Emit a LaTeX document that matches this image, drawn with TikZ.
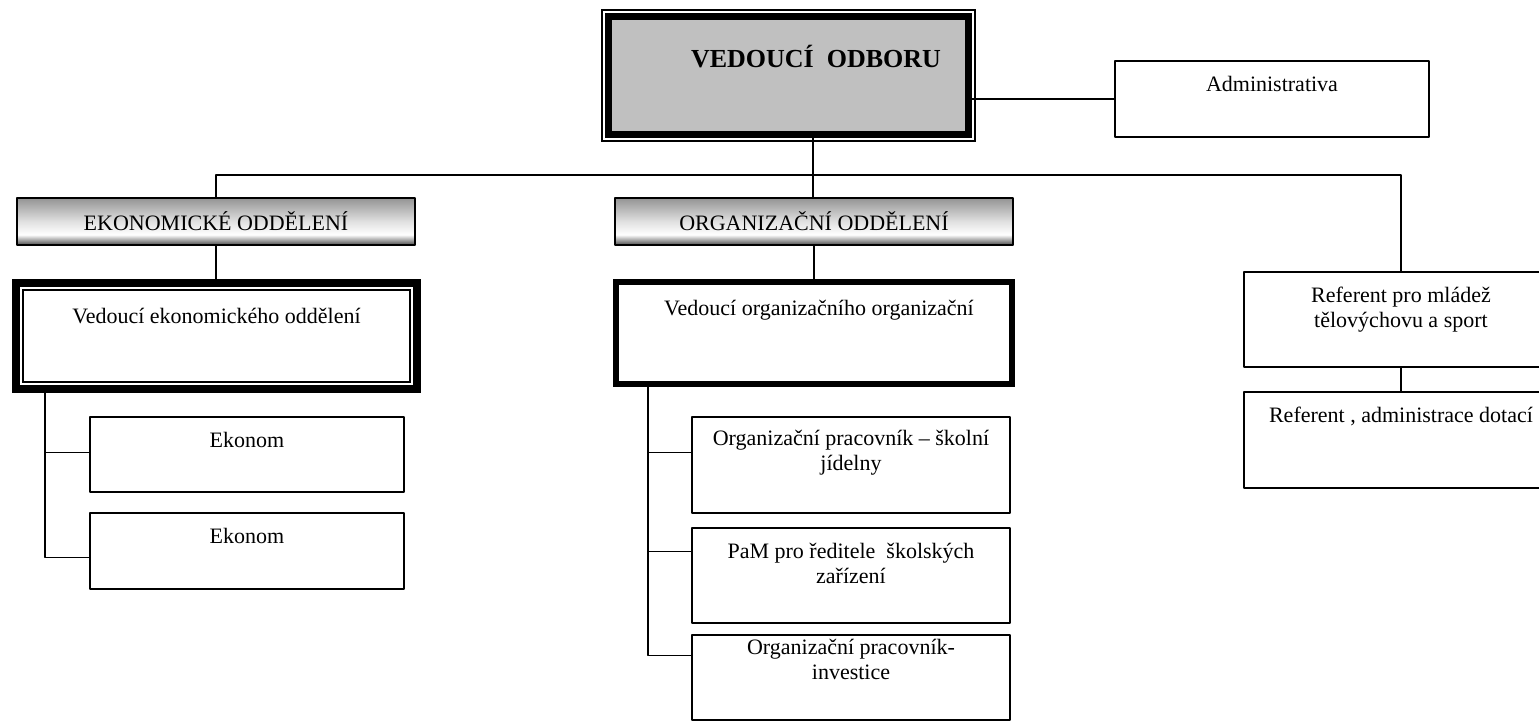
\documentclass[tikz,border=0pt]{standalone}
\usepackage{fontspec}
\setmainfont{Liberation Serif}
\usetikzlibrary{positioning}
\definecolor{headgray}{RGB}{192,192,192}
\pgfdeclareverticalshading{deptshade}{100bp}{color(0bp)=(black!70); color(25bp)=(black!70); color(36bp)=(white); color(50bp)=(black!12); color(75bp)=(black!42); color(100bp)=(black!42)}
\begin{document}
\begin{tikzpicture}[line cap=round,line join=round,x=0.5pt,y=-0.5pt,
  conn/.style={line width=0.7pt},
  box/.style={draw,line width=0.7pt,inner sep=0pt},
  dept/.style={box,shading=deptshade,minimum width=199pt,minimum height=23.5pt},
  lead/.style={draw,inner sep=0pt,line join=miter},
  txt/.style={anchor=base,align=center,inner sep=0pt,font=\fontsize{11}{12.5}\selectfont}]
      \path[use as bounding box,clip] (0,0) rectangle (1539,723);
      % head of the department
      \node[lead,line width=3.5pt,fill=headgray,minimum width=180pt,minimum height=59pt,
        label={[txt,font=\bfseries\fontsize{13}{15}\selectfont,xshift=13.75pt,yshift=-27pt]north:VEDOUCÍ \ ODBORU}] (vo) at (788.5,75.5) {};
      \draw[line width=0.6pt,line join=miter] ([shift={(-1.5pt,1.5pt)}]vo.north west) rectangle ([shift={(1.5pt,-1.5pt)}]vo.south east);
      \node[box,minimum width=157pt,minimum height=38pt,label={[txt,yshift=-15.5pt]north:Administrativa}] (adm) at (1272,99) {};
      % departments
      \node[dept,label={[txt,yshift=-16.5pt]north:EKONOMICKÉ ODDĚLENÍ}] (ekoD) at (216,221.5) {};
      \node[dept,label={[txt,yshift=-16.5pt]north:ORGANIZAČNÍ ODDĚLENÍ}] (orgD) at (814,221.5) {};
      \node[lead,line width=4pt,minimum width=200.5pt,minimum height=53pt,
        label={[txt,yshift=-22pt]north:Vedoucí ekonomického oddělení}] (ekL) at (216.5,336) {};
      \draw[line width=0.6pt,line join=miter] ([shift={(5.5pt,-5.5pt)}]ekL.north west) rectangle ([shift={(-5.5pt,5.5pt)}]ekL.south east);
      \node[lead,line width=3pt,minimum width=198pt,minimum height=51pt,
        label={[txt,xshift=2.5pt,yshift=-18pt]north:Vedoucí organizačního organizační}] (orL) at (814,333) {};
      % staff
      \node[box,minimum width=157pt,minimum height=37.5pt,label={[txt,yshift=-15.5pt]north:Ekonom}] (ek1) at (247,454.5) {};
      \node[box,minimum width=157pt,minimum height=38pt,label={[txt,yshift=-15.5pt]north:Ekonom}] (ek2) at (247,551) {};
      \node[box,minimum width=159pt,minimum height=48pt,label={[txt,yshift=-27pt]north:{Organizační pracovník – školní\\jídelny}}] (or1) at (851,465) {};
      \node[box,minimum width=159pt,minimum height=47.5pt,label={[txt,yshift=-28pt]north:{PaM pro ředitele \ školských\\zařízení}}] (or2) at (851,575.5) {};
      \node[box,minimum width=159pt,minimum height=42.5pt,label={[txt,yshift=-22.5pt]north:{Organizační pracovník-\\investice}}] (or3) at (851,677.5) {};
      \node[box,minimum width=157pt,minimum height=47.5pt,label={[txt,yshift=-28pt]north:{Referent pro mládež\\tělovýchovu a sport}}] (ref1) at (1401,319.5) {};
      \node[box,minimum width=157pt,minimum height=48pt,label={[txt,yshift=-15.5pt]north:{Referent , administrace dotací}}] (ref2) at (1401,440) {};
      % connectors
      \coordinate (bus) at (813,175);
      \draw[conn] (vo.south -| bus) -- (orgD.north -| bus);
      \draw[conn] (ekoD.north) |- (bus) -| (ref1.north);
      \draw[conn] (vo.east |- adm.west) -- (adm.west);
      \draw[conn] (ekoD.south) -- (ekoD.south |- ekL.north);
      \draw[conn] (orgD.south) -- (orgD.south |- orL.north);
      \draw[conn] (ref1.south) -- (ref2.north);
      \coordinate (ekS) at (45,0);
      \coordinate (orS) at (648,0);
      \draw[conn] (ekL.south -| ekS) |- ([yshift=-22.5pt]ek2.north west);
      \draw[conn] (orL.south -| orS) |- ([yshift=-10.5pt]or3.north west);
      \foreach \b/\s/\d in {ek1/ekS/18,or1/orS/18,or2/orS/12}
      {
        \coordinate (br) at ([yshift=-\d pt]\b.north west);
        \draw[conn] (br -| \s) -- (br);
      }
\end{tikzpicture}
\end{document}
